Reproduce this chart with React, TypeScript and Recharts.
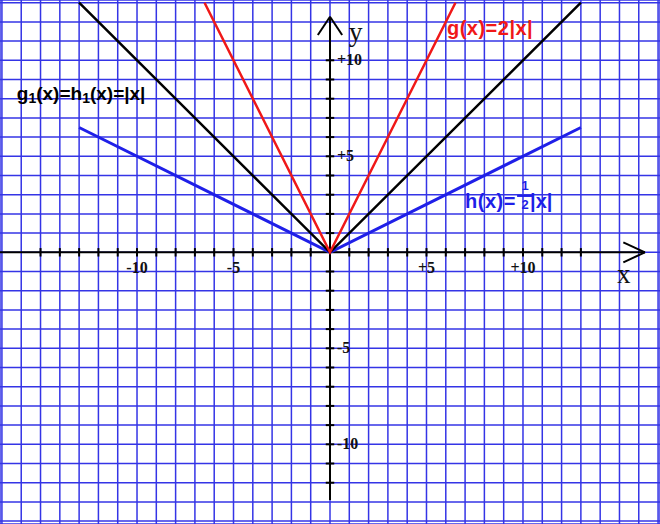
import React from 'react';
import { ComposedChart, Line, XAxis, YAxis, CartesianGrid, ReferenceLine, ReferenceDot } from 'recharts';

// ---- data ----
const gridX = [-17, -16, -15, -14, -13, -12, -11, -10, -9, -8, -7, -6, -5, -4, -3, -2, -1, 0, 1, 2, 3, 4, 5, 6, 7, 8, 9, 10, 11, 12, 13, 14, 15, 16, 17];
const gridY = [-14, -13, -12, -11, -10, -9, -8, -7, -6, -5, -4, -3, -2, -1, 0, 1, 2, 3, 4, 5, 6, 7, 8, 9, 10, 11, 12, 13];
const xTicks = [-15, -14, -13, -12, -11, -10, -9, -8, -7, -6, -5, -4, -3, -2, -1, 1, 2, 3, 4, 5, 6, 7, 8, 9, 10, 11, 12, 13];
const yTicks = [-12, -11, -10, -9, -8, -7, -6, -5, -4, -3, -2, -1, 1, 2, 3, 4, 5, 6, 7, 8, 9, 10];
const xTickLabels = [
  { v: -10, t: '-10' },
  { v: -5, t: '-5' },
  { v: 5, t: '+5' },
  { v: 10, t: '+10' },
];
const yTickLabels = [
  { v: 10, t: '+10' },
  { v: 5, t: '+5' },
  { v: -5, t: '-5' },
  { v: -10, t: '-10' },
];

// g1(x) = h1(x) = |x|
const absData = [
  { x: -13, y: 13 },
  { x: 0, y: 0 },
  { x: 13, y: 13 },
];
// g(x) = 2|x|
const doubleData = [
  { x: -6.5, y: 13 },
  { x: 0, y: 0 },
  { x: 6.5, y: 13 },
];
// h(x) = 1/2 |x|
const halfData = [
  { x: -13, y: 6.5 },
  { x: 0, y: 0 },
  { x: 13, y: 6.5 },
];

// axis extents (data units)
const X_DOMAIN: [number, number] = [-17.1, 17.1];
const Y_DOMAIN: [number, number] = [-14.15, 13.14];
const X_AXIS_END = 16.32;
const Y_AXIS_TOP = 12.27;
const Y_AXIS_BOTTOM = -12.9;

// annotation anchors (data units)
const labelAbs = { x: -16.23, y: 7.93 };
const labelDouble = { x: 6.06, y: 11.32 };
const labelHalf = { x: 7.0, y: 2.31 };
const labelYName = { x: 0.98, y: 11.0 };
const labelXName = { x: 14.87, y: -1.6 };

const GRID = '#3434e6';
const RED = '#f01818';
const BLUE = '#1f1fe8';
const SANS = '"Liberation Sans", Arial, sans-serif';
const SERIF = '"Liberation Serif", "Times New Roman", serif';

const XTickLabel = (props: any) => {
  const { viewBox, text } = props;
  return (
    <text x={viewBox.x} y={viewBox.y + 21} textAnchor="middle" fontFamily={SERIF} fontWeight="bold" fontSize={16} fill="#111">
      {text}
    </text>
  );
};
const YTickLabel = (props: any) => {
  const { viewBox, text } = props;
  return (
    <text x={viewBox.x + 7} y={viewBox.y + 5} textAnchor="start" fontFamily={SERIF} fontWeight="bold" fontSize={16} fill="#111">
      {text}
    </text>
  );
};
const NameLabel = (props: any) => {
  const { viewBox, text } = props;
  return (
    <text x={viewBox.x} y={viewBox.y} fontFamily={SERIF} fontSize={27} fill="#111">
      {text}
    </text>
  );
};
const AbsLabel = (props: any) => {
  const { viewBox } = props;
  return (
    <text x={viewBox.x} y={viewBox.y} fontFamily={SANS} fontWeight="bold" fontSize={19} fill="#000">
      g<tspan fontSize={14} dy={3}>1</tspan>
      <tspan dy={-3}>(x)=h</tspan>
      <tspan fontSize={14} dy={3}>1</tspan>
      <tspan dy={-3}>(x)=|x|</tspan>
    </text>
  );
};
const DoubleLabel = (props: any) => {
  const { viewBox } = props;
  return (
    <text x={viewBox.x} y={viewBox.y} fontFamily={SANS} fontWeight="bold" fontSize={20} letterSpacing={0.5} fill={RED}>
      g(x)=2|x|
    </text>
  );
};
const HalfLabel = (props: any) => {
  const { viewBox } = props;
  const x = viewBox.x;
  const y = viewBox.y;
  return (
    <g>
      <text x={x} y={y} fontFamily={SANS} fontWeight="bold" fontSize={20} letterSpacing={0.5} fill={BLUE}>
        h(x)=
      </text>
      <text x={x + 60} y={y - 18} textAnchor="middle" fontFamily={SANS} fontWeight="bold" fontSize={13} fill={BLUE}>
        1
      </text>
      <line x1={x + 52} x2={x + 67} y1={y - 12} y2={y - 12} stroke={BLUE} strokeWidth={2} />
      <text x={x + 60} y={y + 1} textAnchor="middle" fontFamily={SANS} fontWeight="bold" fontSize={13} fill={BLUE}>
        2
      </text>
      <text x={x + 65} y={y} fontFamily={SANS} fontWeight="bold" fontSize={20} fill={BLUE}>
        |x|
      </text>
    </g>
  );
};

const hiddenDot = { r: 0, fill: 'none', stroke: 'none' };

export default function App() {
  return (
    <div style={{ position: 'absolute', left: 0, top: 0, width: 660, height: 524, background: '#fff' }}>
      <ComposedChart width={660} height={524} margin={{ top: 0, right: 0, bottom: 0, left: 0 }}>
        <XAxis type="number" dataKey="x" domain={X_DOMAIN} ticks={gridX} interval={0} allowDataOverflow hide />
        <YAxis type="number" dataKey="y" domain={Y_DOMAIN} ticks={gridY} interval={0} allowDataOverflow hide />
        <CartesianGrid stroke={GRID} strokeWidth={1.5} />
        {/* axes */}
        <ReferenceLine segment={[{ x: X_DOMAIN[0], y: 0 }, { x: X_AXIS_END, y: 0 }]} stroke="#000" strokeWidth={2} ifOverflow="visible" />
        <ReferenceLine segment={[{ x: 0, y: Y_AXIS_BOTTOM }, { x: 0, y: Y_AXIS_TOP }]} stroke="#000" strokeWidth={2} ifOverflow="visible" />
        {/* arrows */}
        <ReferenceLine segment={[{ x: X_AXIS_END - 1.12, y: 0.52 }, { x: X_AXIS_END, y: 0 }]} stroke="#000" strokeWidth={2} ifOverflow="visible" />
        <ReferenceLine segment={[{ x: X_AXIS_END - 1.12, y: -0.52 }, { x: X_AXIS_END, y: 0 }]} stroke="#000" strokeWidth={2} ifOverflow="visible" />
        <ReferenceLine segment={[{ x: -0.63, y: Y_AXIS_TOP - 0.95 }, { x: 0, y: Y_AXIS_TOP }]} stroke="#000" strokeWidth={2} ifOverflow="visible" />
        <ReferenceLine segment={[{ x: 0.63, y: Y_AXIS_TOP - 0.95 }, { x: 0, y: Y_AXIS_TOP }]} stroke="#000" strokeWidth={2} ifOverflow="visible" />
        {/* tick marks */}
        {xTicks.map((t) => (
          <ReferenceLine key={'xt' + t} segment={[{ x: t, y: -0.22 }, { x: t, y: 0.22 }]} stroke="#000" strokeWidth={2} ifOverflow="visible" />
        ))}
        {yTicks.map((t) => (
          <ReferenceLine key={'yt' + t} segment={[{ x: -0.22, y: t }, { x: 0.22, y: t }]} stroke="#000" strokeWidth={2} ifOverflow="visible" />
        ))}
        {/* functions */}
        <Line data={halfData} dataKey="y" type="linear" stroke={BLUE} strokeWidth={3} dot={false} activeDot={false} isAnimationActive={false} />
        <Line data={absData} dataKey="y" type="linear" stroke="#000" strokeWidth={2.5} dot={false} activeDot={false} isAnimationActive={false} />
        <Line data={doubleData} dataKey="y" type="linear" stroke={RED} strokeWidth={2.5} dot={false} activeDot={false} isAnimationActive={false} />
        {/* tick labels */}
        {xTickLabels.map((l) => (
          <ReferenceDot key={'xl' + l.v} x={l.v} y={0} {...hiddenDot} ifOverflow="visible" label={<XTickLabel text={l.t} />} />
        ))}
        {yTickLabels.map((l) => (
          <ReferenceDot key={'yl' + l.v} x={0} y={l.v} {...hiddenDot} ifOverflow="visible" label={<YTickLabel text={l.t} />} />
        ))}
        <ReferenceDot x={labelYName.x} y={labelYName.y} {...hiddenDot} ifOverflow="visible" label={<NameLabel text="y" />} />
        <ReferenceDot x={labelXName.x} y={labelXName.y} {...hiddenDot} ifOverflow="visible" label={<NameLabel text="x" />} />
        {/* function labels */}
        <ReferenceDot x={labelAbs.x} y={labelAbs.y} {...hiddenDot} ifOverflow="visible" label={<AbsLabel />} />
        <ReferenceDot x={labelDouble.x} y={labelDouble.y} {...hiddenDot} ifOverflow="visible" label={<DoubleLabel />} />
        <ReferenceDot x={labelHalf.x} y={labelHalf.y} {...hiddenDot} ifOverflow="visible" label={<HalfLabel />} />
      </ComposedChart>
    </div>
  );
}
